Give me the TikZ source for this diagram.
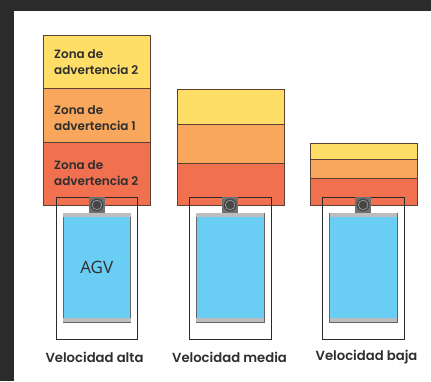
\documentclass[tikz,border=0pt]{standalone}
\usepackage{fontspec}
\setmainfont{Poppins}[BoldFont={Poppins SemiBold}]
\newfontfamily\agvfont{Open Sans}
\definecolor{darkbg}{HTML}{2B2B2B}
\definecolor{zyellow}{HTML}{FFDE68}
\definecolor{zorange}{HTML}{F8A75C}
\definecolor{zred}{HTML}{F17050}
\definecolor{zline}{HTML}{5A4035}
\definecolor{agvblue}{HTML}{69CDF4}
\definecolor{agvgray}{HTML}{BDBDBD}
\definecolor{frameline}{HTML}{2A2A2A}
\definecolor{sensorgray}{HTML}{707070}
\definecolor{txt}{HTML}{2E2E2E}
\begin{document}
\begin{tikzpicture}[x=1pt,y=-1pt,
  zonebox/.style={draw=zline, line width=0.8pt, inner sep=0pt, anchor=north west, minimum width=107pt},
  framebox/.style={draw=frameline, line width=1.1pt, inner sep=0pt, anchor=north west, minimum width=81.5pt, minimum height=142pt},
  bodybox/.style={draw=gray!80!black, line width=0.6pt, fill=agvblue, inner sep=0pt, anchor=north west, minimum width=67.5pt, minimum height=108.7pt},
  sensorbox/.style={fill=sensorgray, inner sep=0pt, anchor=north west, minimum width=16.5pt, minimum height=16.5pt},
  zonetext/.style={anchor=west, align=left, font=\fontsize{12}{16}\selectfont\bfseries, text=txt, inner sep=0pt},
  speedlabel/.style={font=\fontsize{13.2}{15}\selectfont\bfseries, text=txt, inner sep=0pt}
]
\useasboundingbox (0,0) rectangle (431,381);
\fill[darkbg] (0,0) rectangle (431,381);
\fill[white] (14,11) rectangle (431,381);

% ---------- column 1 ----------
\node[zonebox, fill=zyellow, minimum height=53pt] (z1a) at (43,35) {};
\node[zonebox, fill=zorange, minimum height=54pt] (z1b) at (43,88) {};
\node[zonebox, fill=zred, minimum height=62.5pt] (z1c) at (43,142) {};
\node[zonetext] (t1a) at (54,62) {Zona de\\advertencia 2};
\node[zonetext] (t1b) at (54,118) {Zona de\\advertencia 1};
\node[zonetext] (t1c) at (54,173.5) {Zona de\\advertencia 2};
\node[framebox] (f1) at (55.7,196.5) {};
\node[bodybox] (b1) at (62.7,213) {};
\fill[agvgray] ([shift={(0.3pt,-0.3pt)}]b1.north west) rectangle ([shift={(-0.3pt,-4pt)}]b1.north east);
\fill[agvgray] ([shift={(0.3pt,4pt)}]b1.south west) rectangle ([shift={(-0.3pt,0.3pt)}]b1.south east);
\node[sensorbox] (s1) at (88.5,196.5) {};
\fill[gray!55!black] (s1.center) circle (6.5pt);
\draw[gray!70, line width=0.6pt] (s1.center) circle (4.8pt);
\node[font=\agvfont\fontsize{17}{20}\selectfont, text=txt] (agv) at (b1.center) {AGV};
\node[speedlabel] (l1) at (94.5,357) {Velocidad alta};

% ---------- column 2 ----------
\node[zonebox, fill=zyellow, minimum height=35.6pt] (z2a) at (176.5,88.7) {};
\node[zonebox, fill=zorange, minimum height=38.7pt] (z2b) at (176.5,124.3) {};
\node[zonebox, fill=zred, minimum height=42pt] (z2c) at (176.5,163) {};
\node[framebox] (f2) at (189,196.5) {};
\node[bodybox] (b2) at (196,213) {};
\fill[agvgray] ([shift={(0.3pt,-0.3pt)}]b2.north west) rectangle ([shift={(-0.3pt,-4pt)}]b2.north east);
\fill[agvgray] ([shift={(0.3pt,4pt)}]b2.south west) rectangle ([shift={(-0.3pt,0.3pt)}]b2.south east);
\node[sensorbox] (s2) at (221.7,196.5) {};
\fill[gray!55!black] (s2.center) circle (6.5pt);
\draw[gray!70, line width=0.6pt] (s2.center) circle (4.8pt);
\node[speedlabel] (l2) at (229.5,357) {Velocidad media};

% ---------- column 3 ----------
\node[zonebox, fill=zyellow, minimum height=16.3pt] (z3a) at (309.5,142.7) {};
\node[zonebox, fill=zorange, minimum height=19.3pt] (z3b) at (309.5,159) {};
\node[zonebox, fill=zred, minimum height=26.7pt] (z3c) at (309.5,178.3) {};
\node[framebox] (f3) at (322.3,196.5) {};
\node[bodybox] (b3) at (329.3,213) {};
\fill[agvgray] ([shift={(0.3pt,-0.3pt)}]b3.north west) rectangle ([shift={(-0.3pt,-4pt)}]b3.north east);
\fill[agvgray] ([shift={(0.3pt,4pt)}]b3.south west) rectangle ([shift={(-0.3pt,0.3pt)}]b3.south east);
\node[sensorbox] (s3) at (354.7,196.5) {};
\fill[gray!55!black] (s3.center) circle (6.5pt);
\draw[gray!70, line width=0.6pt] (s3.center) circle (4.8pt);
\node[speedlabel] (l3) at (366.5,357) {Velocidad baja};
\end{tikzpicture}
\end{document}
